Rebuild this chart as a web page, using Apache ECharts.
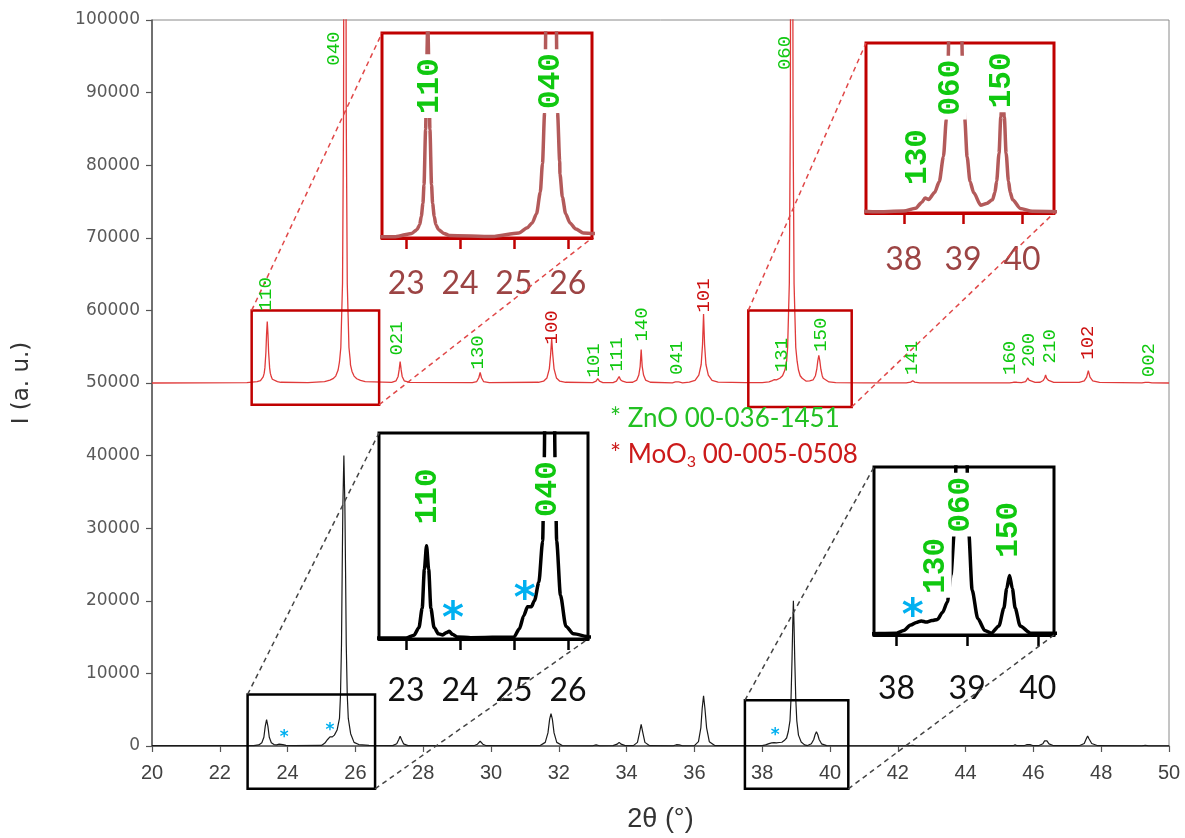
<!DOCTYPE html>
<html>
<head>
<meta charset="utf-8">
<script src="https://cdn.jsdelivr.net/npm/echarts@6/dist/echarts.min.js"></script>
<style>html,body{margin:0;padding:0;background:#fff}#c{width:1185px;height:838px}</style>
</head>
<body>
<div id="c"></div>
<script>
// ---- DATA ----
// upper (red) pattern, offset +50000 in the plot
const redPattern = [
[20,50000],[22.8,50050],
[23.1,50180],[23.2,50325],[23.25,50520],[23.28,50850],[23.31,51350],[23.33,52080],[23.36,54230],[23.38,56770],[23.4,58460],[23.42,56770],[23.44,54230],[23.47,52080],[23.49,51350],[23.52,50850],[23.55,50520],[23.6,50325],[23.7,50180],[23.8,50100],
[24.6,50060],
[25.09,50200],[25.25,50400],[25.34,50590],[25.42,50950],[25.49,51790],[25.53,52900],[25.57,54890],[25.62,63700],[25.65,86800],[25.67,144900],[25.68,206600],[25.69,250000],[25.7,206600],[25.71,144900],[25.73,86800],[25.76,63700],[25.81,54890],[25.85,53000],[25.855,52500],[25.9,51600],[25.96,50950],[26.04,50590],[26.15,50350],[26.29,50200],
[27.07,50080],[27.2,50300],[27.26,50900],[27.29,51800],[27.32,52950],[27.35,51800],[27.38,50900],[27.44,50300],[27.6,50080],
[29.45,50050],[29.58,50200],[29.64,50720],[29.68,51450],[29.72,50720],[29.78,50200],[29.95,50050],
[31.4,50100],[31.55,50250],[31.65,50700],[31.72,51950],[31.76,54000],[31.79,56100],[31.82,54000],[31.86,51950],[31.93,50700],[32.03,50250],[32.2,50100],
[33.0,50050],[33.1,50250],[33.15,50600],[33.2,50250],[33.3,50050],
[33.6,50060],[33.7,50250],[33.74,50450],[33.78,50900],[33.82,50450],[33.88,50250],[34.0,50080],
[34.18,50100],[34.3,50400],[34.36,51100],[34.4,52300],[34.43,54600],[34.46,52300],[34.5,51100],[34.56,50400],[34.7,50100],
[35.35,50030],[35.44,50150],[35.49,50300],[35.54,50150],[35.65,50030],
[35.85,50130],[36.02,50360],[36.13,51070],[36.2,52550],[36.24,55300],[36.27,59500],[36.3,55300],[36.34,52550],[36.41,51070],[36.52,50360],[36.7,50130],
[37.5,50040],[38.0,50060],[38.2,50150],[38.3,50330],[38.36,50480],[38.42,50430],[38.52,50650],[38.6,51000],[38.67,51790],[38.72,53000],[38.75,54890],[38.8,63700],[38.83,86800],[38.85,144900],[38.86,206600],[38.87,250000],[38.88,206600],[38.89,144900],[38.91,86800],[38.94,63700],[38.99,54890],[39.03,53000],[39.07,51790],[39.12,51000],[39.18,50650],[39.3,50250],[39.4,50300],
[39.5,50420],[39.54,50650],[39.57,51005],[39.61,51900],[39.64,53040],[39.67,53800],[39.7,53040],[39.73,51900],[39.77,51005],[39.8,50650],[39.84,50420],[39.97,50146],[40.17,50054],
[41.0,50030],
[42.25,50030],[42.38,50120],[42.44,50300],[42.5,50120],[42.65,50030],
[45.3,50030],[45.41,50100],[45.46,50250],[45.51,50100],
[45.65,50050],[45.77,50200],[45.81,50400],[45.84,50700],[45.87,50400],[45.92,50200],[46.05,50080],
[46.2,50100],[46.29,50350],[46.33,50650],[46.36,51100],[46.39,50650],[46.45,50350],[46.6,50080],
[47.35,50080],[47.5,50300],[47.57,50800],[47.62,51700],[47.67,50800],[47.75,50300],[47.95,50080],
[49.2,50020],[49.3,50080],[49.35,50200],[49.4,50080],[49.5,50020],
[50,50000]
];
// lower (black) pattern
const blackPattern = [
[20,40],[21,50],[22,40],[23,40],
[23.15,150],[23.24,450],[23.3,1200],[23.34,2700],[23.38,3620],[23.42,2700],[23.46,1200],[23.52,450],[23.6,200],[23.68,160],[23.75,250],[23.8,300],[23.86,180],[23.95,80],[24.2,50],
[25.0,80],[25.1,400],[25.18,900],[25.25,1250],[25.32,1250],[25.38,1500],[25.46,2200],[25.53,3800],[25.56,7000],[25.59,14000],[25.61,24000],[25.63,33000],[25.66,40000],[25.69,33000],[25.71,24000],[25.73,14000],[25.76,7000],[25.79,3800],[25.86,1700],[25.96,500],[26.1,200],[26.4,80],
[27.1,50],[27.22,300],[27.28,900],[27.32,1330],[27.36,900],[27.42,300],[27.55,50],
[28.9,60],[29.5,40],[29.6,250],[29.68,650],[29.76,250],[29.86,40],
[31.45,60],[31.6,500],[31.68,1800],[31.73,3700],[31.77,4450],[31.81,3700],[31.86,1800],[31.94,500],[32.1,60],
[33.0,30],[33.1,150],[33.2,30],
[33.6,50],[33.72,250],[33.78,500],[33.84,250],[33.96,50],
[34.2,50],[34.32,500],[34.38,1800],[34.43,2980],[34.48,1800],[34.54,500],[34.68,50],
[35.38,30],[35.47,180],[35.5,250],[35.55,150],[35.65,30],
[36.0,60],[36.12,600],[36.19,2500],[36.23,5200],[36.27,6900],[36.31,5200],[36.36,2500],[36.44,600],[36.6,60],
[37.5,40],[38.0,60],[38.1,150],[38.2,330],[38.28,420],[38.35,470],[38.42,430],[38.5,480],[38.58,520],[38.65,750],[38.72,1100],[38.77,2000],[38.82,3500],[38.85,6500],[38.88,12000],[38.9,16500],[38.92,20000],[38.94,16500],[38.96,12000],[38.99,6500],[39.02,3500],[39.07,1500],[39.15,550],[39.25,150],[39.34,60],
[39.45,300],[39.52,900],[39.56,1550],[39.6,1980],[39.64,1550],[39.68,900],[39.75,300],[39.9,60],
[42.3,30],[42.44,100],[42.55,30],
[45.4,40],[45.46,150],[45.52,40],
[45.72,40],[45.8,180],[45.85,300],[45.9,180],[46.0,40],
[46.15,40],[46.28,300],[46.33,700],[46.36,920],[46.4,700],[46.46,300],[46.6,40],
[47.35,40],[47.5,350],[47.56,1000],[47.6,1375],[47.64,1000],[47.72,350],[47.9,40],
[49.2,20],[49.3,100],[49.4,20],[50,20]
];
// hkl labels on the main plot: [text, 2theta, intensity at text start, colour key]
const mainLabels = [
['110',23.37,59870,'g'],['040',25.37,93700,'g'],['021',27.22,53780,'g'],['130',29.62,51860,'g'],
['100',31.8,55300,'r'],['101',33.04,50760,'g'],['111',33.71,51580,'g'],['140',34.45,55700,'g'],
['041',35.5,51100,'g'],['101',36.28,59700,'r'],['131',38.58,51500,'g'],['060',38.66,93100,'g'],
['150',39.72,54300,'g'],['141',42.41,51100,'g'],['160',45.31,51100,'g'],['200',45.88,52200,'g'],
['210',46.49,52700,'g'],['102',47.61,53200,'r'],['002',49.4,50800,'g']
];
const insetR1Labels = [['110',23.45,54680],['040',25.69,54880]];
const insetR2Labels = [['130',38.24,50765],['060',38.8,52970],['150',39.66,53200]];
const insetB1Labels = [['110',23.41,4300],['040',25.63,4580]];
const insetB2Labels = [['130',38.56,1240],['060',38.92,3280],['150',39.6,2440]];
// ZnO markers (visual centre of the asterisk)
const mainStars = [[23.9,1650],[25.25,2610],[38.38,1925]];
const insetB1Stars = [[23.87,1135],[25.2,1910]];
const insetB2Stars = [[38.23,940]];
// axis ticks
const xTicksMain = {min:20,max:50,interval:2};
const yTicksMain = {min:0,max:100000,interval:10000};
const insetTicksLow = [23,24,25,26];
const insetTicksHigh = [38,39,40];
// zoom ranges
const insetRanges = [
  {x:[22.55,26.45], y:[50000,58000]},
  {x:[37.36,40.54], y:[50000,55400]},
  {x:[22.5,26.37],  y:[0,8000]},
  {x:[37.68,40.23], y:[0,5600]}
];
const zoomBoxes = [
  {x:[22.94,26.7], y:[47000,60000], inset:1, kind:'r'},
  {x:[37.59,40.64], y:[46700,60000], inset:2, kind:'r'},
  {x:[22.82,26.58], y:[-5900,7100], inset:3, kind:'k'},
  {x:[37.49,40.54], y:[-5900,6300], inset:4, kind:'k'}
];

// ---- STYLE ----
const GREEN='#10c810', RED='#cc1010', BLUE='#00b0f0';
const INSET_RED_LINE='#b35a5a', INSET_RED_BORDER='#c00000', INSET_RED_TEXT='#9c4444';
const monoFont='"Liberation Mono","DejaVu Sans Mono",monospace';
const sansFont='"Liberation Sans",Arimo,sans-serif';

const chart = echarts.init(document.getElementById('c'), null, {renderer:'canvas'});

function labelSeries(list, xi, colorFn, size, bold, bg){
  return {
    type:'scatter', xAxisIndex:xi, yAxisIndex:xi, symbolSize:1, z:6, zlevel:1,
    itemStyle:{color:'transparent', opacity:1}, silent:true,
    data:list.map(l=>({value:[l[1],l[2]], label:{formatter:l[0], color:colorFn(l)}})),
    label:{show:true, position:'inside', rotate:90, align:'left', verticalAlign:'middle', opacity:1,
      fontFamily:monoFont, fontSize:size, fontWeight:bold?'bold':'normal',
      backgroundColor:bg?'#ffffff':'transparent', padding:bg?[0,4,0,4]:0},
    clip:false
  };
}
function starSeries(list, xi, size){
  return {
    type:'scatter', xAxisIndex:xi, yAxisIndex:xi, symbolSize:1, z:7, zlevel:1, silent:true,
    itemStyle:{color:'transparent', opacity:1},
    data:list.map(p=>({value:p})),
    label:{show:true, position:'inside', formatter:'*', color:BLUE, fontSize:size, fontWeight:'bold', opacity:1,
      offset:[0, Math.round(size*0.26)],
      fontFamily:'"DejaVu Sans",sans-serif', align:'center', verticalAlign:'middle'}
  };
}
function insetGrid(left,top,width,height,border){
  return {left,top,width,height,show:true,borderColor:border,borderWidth:3,backgroundColor:'#fff',containLabel:false};
}
function insetX(k, ticks, col, txt, margin){
  const r=insetRanges[k-1];
  return {type:'value', gridIndex:k, min:r.x[0], max:r.x[1],
    axisLine:{show:true, onZero:false, lineStyle:{color:col,width:3}},
    axisTick:{show:true, customValues:ticks, length:11, lineStyle:{color:col,width:2.5}},
    axisLabel:{customValues:ticks, fontSize:32, color:txt, margin:margin, fontFamily:'Lato,"Open Sans",sans-serif'},
    splitLine:{show:false}};
}
function insetY(k){
  const r=insetRanges[k-1];
  return {type:'value', gridIndex:k, min:r.y[0], max:r.y[1], show:false, splitLine:{show:false}};
}
function insetLine(k, data, color){
  return {type:'line', xAxisIndex:k, yAxisIndex:k, data:data, showSymbol:false, symbol:'none',
    smooth:0.25, smoothMonotone:'x', lineStyle:{color:color,width:3.5,join:'round'}, z:4};
}

const option = {
  animation:false,
  backgroundColor:'#fff',
  grid:[
    {left:152,right:16,top:20,bottom:91,show:true,borderColor:'#8a8a8a',borderWidth:1,containLabel:false},
    insetGrid(382,33,210,205,INSET_RED_BORDER),
    insetGrid(866,43,188,170,INSET_RED_BORDER),
    insetGrid(379,433,209,206,'#000'),
    insetGrid(874,467,180,168,'#000')
  ],
  xAxis:[
    {type:'value', gridIndex:0, min:xTicksMain.min, max:xTicksMain.max, interval:xTicksMain.interval,
      axisLine:{onZero:false, lineStyle:{color:'#555',width:1.5}},
      axisTick:{length:6, lineStyle:{color:'#555',width:1.2}},
      axisLabel:{fontFamily:sansFont, fontSize:20, color:'#404040', margin:17},
      splitLine:{show:false},
      name:'2θ (°)', nameLocation:'middle', nameGap:60,
      nameTextStyle:{fontFamily:sansFont, fontSize:27, color:'#333'}},
    insetX(1, insetTicksLow, INSET_RED_BORDER, INSET_RED_TEXT, 30),
    insetX(2, insetTicksHigh, INSET_RED_BORDER, INSET_RED_TEXT, 31),
    insetX(3, insetTicksLow, '#000', '#111', 36),
    insetX(4, insetTicksHigh, '#000', '#111', 38)
  ],
  yAxis:[
    {type:'value', gridIndex:0, min:yTicksMain.min, max:yTicksMain.max, interval:yTicksMain.interval,
      axisLine:{show:true, lineStyle:{color:'#555',width:1.5}},
      axisTick:{show:true, length:6, lineStyle:{color:'#555',width:1.2}},
      axisLabel:{fontFamily:'"DejaVu Sans",sans-serif', fontSize:17, color:'#595959', margin:12,
        formatter:v=>String(v)},
      splitLine:{show:false},
      name:'I (a. u.)', nameLocation:'middle', nameGap:118, nameRotate:90,
      nameTextStyle:{fontFamily:'"DejaVu Sans",sans-serif', fontSize:23, color:'#333'}},
    insetY(1), insetY(2), insetY(3), insetY(4)
  ],
  series:[
    {type:'line', xAxisIndex:0, yAxisIndex:0, data:redPattern, showSymbol:false, symbol:'none', lineStyle:{color:'#e03a3a',width:1.3}, z:3},
    {type:'line', xAxisIndex:0, yAxisIndex:0, data:blackPattern, showSymbol:false, symbol:'none', lineStyle:{color:'#1a1a1a',width:1.2}, z:3},
    insetLine(1, redPattern, INSET_RED_LINE),
    insetLine(2, redPattern, INSET_RED_LINE),
    insetLine(3, blackPattern, '#000'),
    insetLine(4, blackPattern, '#000'),
    labelSeries(mainLabels, 0, l=>l[3]==='r'?RED:GREEN, 19, false, false),
    labelSeries(insetR1Labels, 1, ()=>GREEN, 31, true, true),
    labelSeries(insetR2Labels, 2, ()=>GREEN, 31, true, true),
    labelSeries(insetB1Labels, 3, ()=>GREEN, 31, true, true),
    labelSeries(insetB2Labels, 4, ()=>GREEN, 31, true, true),
    starSeries(mainStars, 0, 17),
    starSeries(insetB1Stars, 3, 42),
    starSeries(insetB2Stars, 4, 42)
  ],
  graphic:[
    {type:'text', left:610, top:406, z:20, zlevel:1, style:{text:'* ZnO 00-036-1451', fill:'#22c022', font:'26px Lato, "Open Sans", sans-serif'}},
    {type:'text', left:610, top:442, z:20, zlevel:1, style:{
      text:'{a|* MoO}{s|3}{a| 00-005-0508}',
      rich:{a:{fill:'#cc1a1a', fontSize:26, fontFamily:'Lato, "Open Sans", sans-serif'},
            s:{fill:'#cc1a1a', fontSize:16, fontFamily:'Lato, "Open Sans", sans-serif', padding:[13,0,0,0]}}}}
  ]
};
chart.setOption(option);

// boxes on the main plot and dashed connectors to the insets
const g = [];
zoomBoxes.forEach(b=>{
  const tl = chart.convertToPixel({gridIndex:0},[b.x[0],b.y[1]]);
  const br = chart.convertToPixel({gridIndex:0},[b.x[1],b.y[0]]);
  const r = insetRanges[b.inset-1];
  const itl = chart.convertToPixel({gridIndex:b.inset},[r.x[0],r.y[1]]);
  const ibr = chart.convertToPixel({gridIndex:b.inset},[r.x[1],r.y[0]]);
  const stroke = b.kind==='r'?INSET_RED_BORDER:'#000';
  const dash = b.kind==='r'?'#e04848':'#444';
  g.push({type:'rect', z:15, shape:{x:tl[0],y:tl[1],width:br[0]-tl[0],height:br[1]-tl[1]},
    style:{fill:'none',stroke:stroke,lineWidth:2.5}});
  g.push({type:'line', z:15, shape:{x1:tl[0],y1:tl[1],x2:itl[0],y2:itl[1]},
    style:{stroke:dash,lineWidth:1.5,lineDash:[5,4]}});
  g.push({type:'line', z:15, shape:{x1:br[0],y1:br[1],x2:ibr[0],y2:ibr[1]},
    style:{stroke:dash,lineWidth:1.5,lineDash:[5,4]}});
});
chart.setOption({graphic: option.graphic.concat(g)});
</script>
</body>
</html>
